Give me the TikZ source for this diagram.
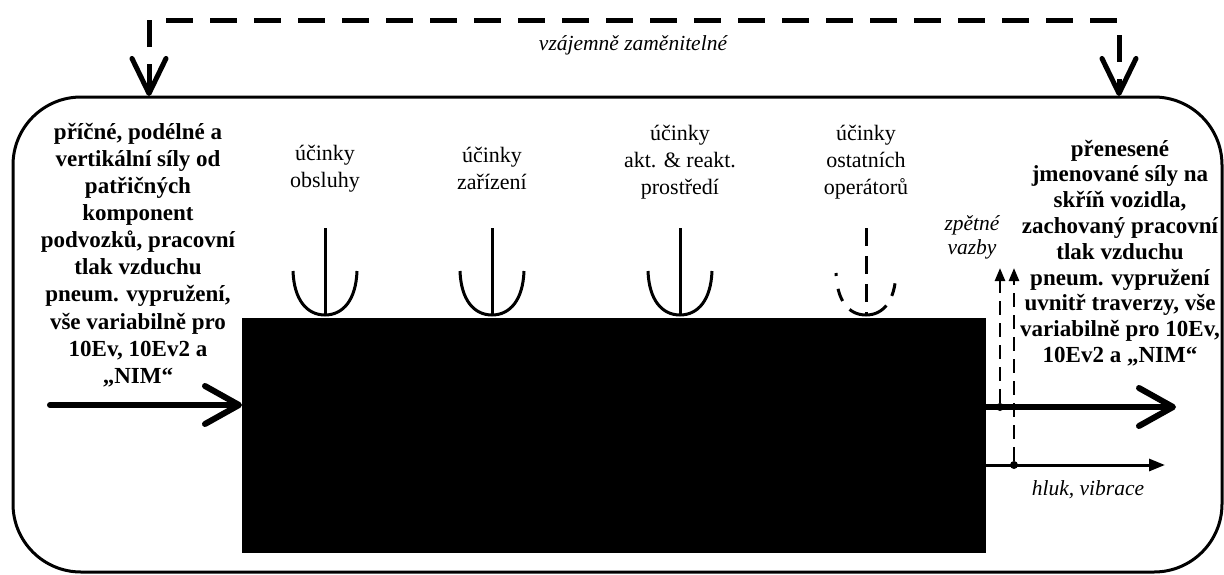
\documentclass[tikz,border=0pt]{standalone}
\usepackage{fontspec}
\setmainfont{Liberation Serif}
\usetikzlibrary{arrows.meta}
\begin{document}
\begin{tikzpicture}[x=1pt,y=-1pt,
  frame/.style={draw, line width=3pt, rounded corners=68pt, inner sep=0pt, outer sep=0pt},
  block/.style={fill=black, inner sep=0pt, outer sep=0pt},
  sidetext/.style={align=center, inner sep=0pt, font=\fontsize{23}{27.1}\selectfont\bfseries},
  effecttext/.style={align=center, inner sep=0pt, font=\fontsize{22}{27}\selectfont},
  note/.style={align=center, inner sep=0pt, font=\fontsize{21.5}{24}\selectfont\itshape},
  flow/.style={line width=6pt, line cap=round, -{Straight Barb[length=34pt,width=38pt,round]}},
  swap/.style={line width=5pt, dash pattern=on 27pt off 17pt,
    {Straight Barb[length=35pt,width=34pt,round]}-{Straight Barb[length=35pt,width=34pt,round]}},
  thinflow/.style={line width=3pt, -{Triangle[length=16pt,width=12pt]}},
  feedback/.style={line width=2.5pt, dash pattern=on 14pt off 8pt, -{Triangle[length=13pt,width=10pt]}},
  junction/.style={circle, fill=black, inner sep=0pt, minimum size=8pt},
  receptor/.pic={
    \draw[line width=3pt] (0,0) -- (0,-87);
    \draw[line width=3pt] (-32,-44) .. controls (-31,-15) and (-18,0) .. (0,0)
                    .. controls (18,0) and (31,-15) .. (32,-44);
  },
  dashedreceptor/.pic={
    \draw[line width=3pt, dash pattern=on 18pt off 10pt] (0,-87) -- (0,0);
    \draw[line width=3pt, dash pattern=on 3pt off 13pt on 13pt off 11pt on 41pt off 11pt on 13pt off 13pt on 3pt]
      (-30,-42) .. controls (-29,-15) and (-18,0) .. (0,0)
                .. controls (18,0) and (29,-15) .. (30,-42);
  }]
\useasboundingbox (0,0) rectangle (1224,574);

% system boundary and the bogie block
\node[frame, anchor=north west, minimum width=1209pt, minimum height=475pt] (sys) at (13,97) {};
\node[block, anchor=north west, minimum width=744pt, minimum height=235pt] (core) at (242,318) {};

% interchangeable inputs/outputs
\coordinate (swapL) at (149,96);
\coordinate (swapLtop) at (149,20);
\coordinate (swapRtop) at (1119,20);
\coordinate (swapR) at (1119,96);
\draw[swap] (swapL) -- (swapLtop) -- (swapRtop) -- (swapR);
\node[note] (swapText) at (633,45) {vzájemně zaměnitelné};

% side texts
\node[sidetext] (inText) at (138,255) {příčné, podélné a\\vertikální síly od\\patřičných\\komponent\\podvozků, pracovní\\tlak vzduchu\\pneum. vypružení,\\vše variabilně pro\\10Ev, 10Ev2 a\\„NIM“};
\node[sidetext, font=\fontsize{23}{25.8}\selectfont\bfseries] (outText) at (1120,253) {přenesené\\jmenované síly na\\skříň vozidla,\\zachovaný pracovní\\tlak vzduchu\\pneum. vypružení\\uvnitř traverzy, vše\\variabilně pro 10Ev,\\10Ev2 a „NIM“};

% effects acting on the block
\node[effecttext] (eff1) at (325,168.5) {účinky\\obsluhy};
\node[effecttext] (eff2) at (492,168.5) {účinky\\zařízení};
\node[effecttext] (eff3) at (680,162.5) {účinky\\akt. \& reakt.\\prostředí};
\node[effecttext] (eff4) at (866,162.5) {účinky\\ostatních\\operátorů};
\pic at (325,315) {receptor};
\pic at (492,315) {receptor};
\pic at (680,315) {receptor};
\pic at (866,315) {dashedreceptor};

% main input and outputs
\coordinate (inStart) at (50,405);
\draw[flow] (inStart) -- (inStart -| core.west);
\coordinate (outEnd) at (1176,407);
\draw[flow] (outEnd -| core.east) -- (outEnd);
\coordinate (noiseEnd) at (1165,465);
\draw[thinflow] (noiseEnd -| core.east) -- (noiseEnd);
\node[note] (noiseText) at (1088,490) {hluk, vibrace};

% feedback
\node[junction] (fb1) at (1000,407) {};
\node[junction] (fb2) at (1014,465) {};
\coordinate (fb1top) at (1000,268);
\coordinate (fb2top) at (1014,268);
\draw[feedback] (fb1) -- (fb1top);
\draw[feedback] (fb2) -- (fb2top);
\node[note] (fbText) at (972,237) {zpětné\\vazby};
\end{tikzpicture}
\end{document}
